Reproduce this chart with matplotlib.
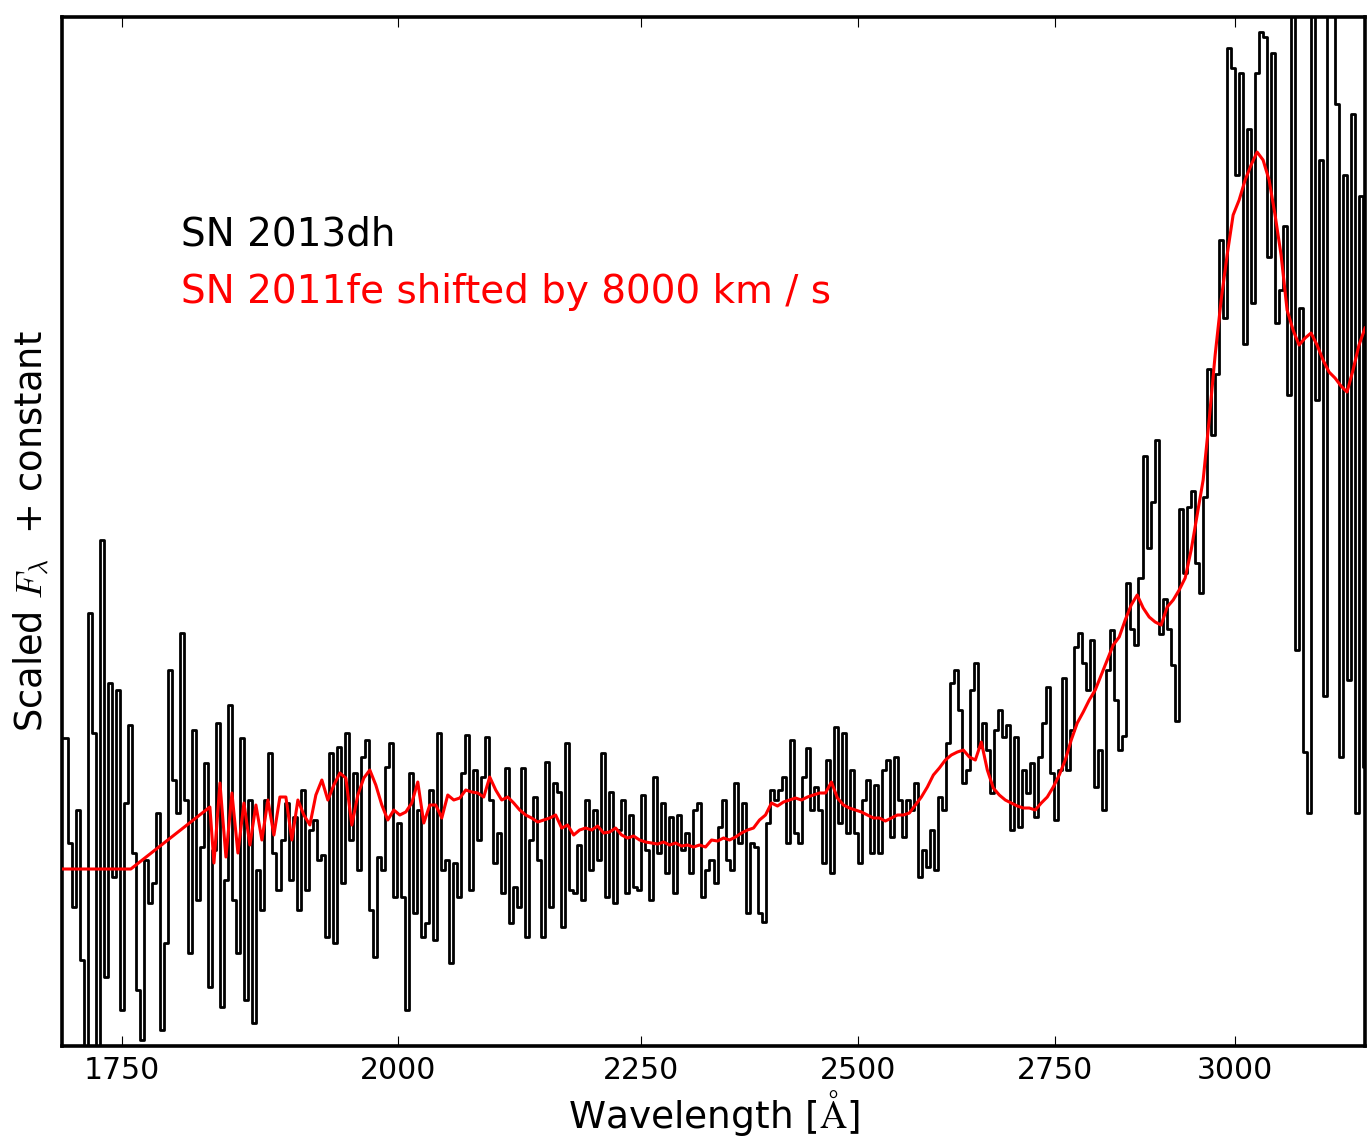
import numpy as np
import matplotlib
matplotlib.use("Agg")
import matplotlib.pyplot as plt
from matplotlib.ticker import NullLocator

plt.rcParams['font.family'] = ['DejaVu Sans']
plt.rcParams['mathtext.fontset'] = 'cm'

# ---------------- data ----------------
# SN 2013dh (black, binned spectrum), wavelength grid 1700-3195 A
sn13_wave_range = (1700.0, 3195.0)
sn13_flux = [
    30.8, 30.8, 20.3, 13.9, 23.6, 8.6, -1.4, 43.3, 31.3, -1.4,
    50.6, 6.9, 36.3, 16.9, 35.6, 3.6, 24.3, 32.1, 19.3, 5.6,
    0.6, 18.6, 14.3, 16.3, 23.3, 1.6, 10.3, 37.6, 26.6, 23.3,
    41.3, 24.6, 9.3, 31.6, 14.6, 19.9, 28.3, 5.9, 19.6, 32.3,
    3.9, 16.6, 34.1, 14.6, 9.3, 30.8, 4.6, 24.6, 2.3, 17.6,
    13.6, 24.6, 29.3, 19.3, 15.6, 20.6, 24.3, 16.6, 22.9, 13.6,
    25.6, 15.6, 21.6, 22.6, 18.6, 19.1, 10.9, 29.3, 10.3, 29.9,
    16.3, 31.3, 20.6, 27.3, 17.6, 28.9, 30.6, 13.6, 8.9, 18.9,
    17.6, 27.9, 30.3, 14.9, 22.3, 14.9, 3.6, 27.3, 13.3, 23.6,
    10.9, 12.3, 25.6, 10.6, 31.3, 17.6, 18.6, 8.3, 18.3, 14.9,
    27.3, 31.1, 15.6, 27.6, 20.6, 26.9, 30.9, 24.6, 18.3, 21.3,
    15.3, 27.8, 12.3, 15.9, 13.9, 27.8, 10.9, 20.6, 24.9, 18.6,
    10.9, 28.4, 13.9, 26.3, 25.4, 11.9, 30.3, 15.6, 15.3, 20.1,
    14.6, 24.6, 17.6, 23.6, 18.6, 29.3, 14.9, 25.4, 14.3, 21.6,
    24.6, 15.3, 23.1, 15.9, 15.6, 25.1, 19.6, 14.6, 26.9, 19.3,
    24.3, 17.3, 22.9, 15.3, 23.1, 19.6, 21.3, 17.3, 23.6, 24.3,
    14.9, 17.6, 18.6, 16.3, 21.9, 24.6, 18.6, 17.6, 26.3, 20.3,
    24.3, 13.3, 20.3, 19.9, 13.3, 12.4, 22.3, 25.6, 24.6, 25.6,
    26.9, 20.3, 30.6, 21.3, 20.3, 26.9, 29.8, 23.6, 25.9, 23.6,
    18.3, 28.6, 17.3, 31.9, 22.3, 31.3, 21.3, 27.6, 21.3, 18.3,
    24.6, 26.6, 19.3, 26.1, 19.3, 27.6, 28.6, 20.9, 28.9, 24.6,
    20.9, 24.6, 23.6, 26.3, 16.9, 19.6, 17.9, 21.6, 17.6, 24.9,
    23.6, 30.3, 36.3, 37.6, 33.6, 26.3, 27.6, 35.6, 38.3, 29.9,
    32.3, 29.6, 25.3, 31.6, 33.6, 30.9, 32.1, 21.6, 30.9, 21.9,
    27.6, 25.3, 28.3, 22.9, 28.9, 32.3, 35.9, 27.3, 22.6, 27.6,
    36.8, 27.6, 31.6, 39.9, 41.3, 38.3, 35.6, 40.6, 25.9, 29.6,
    23.6, 37.6, 41.6, 34.6, 29.6, 31.0, 46.3, 41.7, 40.1, 46.8,
    59.0, 49.8, 54.4, 60.6, 41.2, 44.7, 41.7, 38.1, 32.5, 53.7,
    47.3, 53.9, 55.5, 48.3, 45.3, 54.9, 67.7, 61.1, 67.2, 80.6,
    72.8, 99.8, 97.8, 87.1, 97.3, 70.2, 91.7, 74.3, 97.3, 101.4,
    100.9, 78.9, 99.3, 72.3, 75.6, 82.0, 65.1, 110.0, 39.6, 73.8,
    29.4, 23.3, 110.0, 64.6, 88.6, 35.0, 110.0, 110.0, 94.2, 28.9,
    87.1, 36.6, 93.2, 23.3, 85.0, 27.9,
]

# SN 2011fe shifted by 8000 km/s (red)
sn11_head_wave = [1700.0, 1757.6, 1826.2]
sn11_head_flux = [17.7, 17.7, 23.9]
sn11_wave_range = (1829.8, 3195.0)
sn11_flux = [
    18.3, 26.3, 18.9, 25.3, 19.3, 24.3, 20.1, 24.1, 20.6, 24.6,
    21.1, 24.9, 24.9, 20.6, 24.6, 23.1, 22.1, 25.1, 26.6, 24.6,
    26.1, 27.3, 26.8, 22.1, 25.1, 26.8, 27.6, 26.1, 24.1, 22.6,
    23.6, 23.1, 23.4, 24.3, 26.4, 22.3, 24.1, 24.1, 22.8, 25.1,
    24.6, 24.8, 25.6, 25.4, 25.3, 24.9, 26.9, 25.6, 24.6, 24.9,
    24.3, 23.6, 23.1, 22.8, 22.4, 22.6, 22.8, 23.1, 21.8, 22.1,
    21.1, 21.6, 21.8, 21.6, 22.0, 21.3, 21.4, 21.8, 21.1, 20.8,
    21.0, 20.6, 20.4, 20.3, 20.2, 20.4, 20.1, 20.3, 20.0, 20.1,
    19.9, 20.1, 19.9, 20.6, 20.5, 20.8, 20.6, 20.9, 21.3, 21.6,
    21.8, 22.6, 23.1, 24.3, 24.0, 24.4, 24.6, 24.8, 24.6, 24.9,
    25.1, 25.3, 25.3, 26.4, 24.8, 24.1, 23.8, 23.6, 23.4, 23.1,
    22.8, 22.8, 22.5, 22.8, 23.1, 23.1, 23.3, 24.1, 24.9, 25.9,
    27.1, 27.8, 28.6, 29.1, 29.4, 29.6, 28.9, 28.6, 30.4, 27.6,
    25.8, 25.1, 24.6, 24.3, 24.0, 23.8, 23.8, 23.6, 24.3, 24.9,
    25.9, 27.1, 28.6, 30.6, 32.3, 33.4, 34.6, 35.6, 37.1, 38.6,
    40.1, 40.9, 42.6, 44.1, 45.1, 43.8, 42.9, 42.4, 42.1, 43.9,
    44.6, 45.6, 46.8, 49.6, 53.1, 56.6, 62.6, 69.1, 74.6, 79.1,
    83.1, 84.6, 86.6, 88.1, 89.4, 88.6, 86.6, 83.1, 79.1, 73.6,
    71.6, 70.1, 70.8, 71.3, 70.1, 68.6, 67.4, 66.8, 66.0, 65.4,
    67.6, 70.1, 71.8,
]

xticks = [1750, 2000, 2250, 2500, 2750, 3000]
xtick_labels = ['1750', '2000', '2250', '2500', '2750', '3000']
label_black = 'SN 2013dh'
label_red = 'SN 2011fe shifted by 8000 km / s'

sn13_wave = np.geomspace(sn13_wave_range[0], sn13_wave_range[1], len(sn13_flux))
sn11_wave = np.concatenate([sn11_head_wave,
                            np.geomspace(sn11_wave_range[0], sn11_wave_range[1], len(sn11_flux))])
sn11_all = np.concatenate([sn11_head_flux, sn11_flux])

# ---------------- plot ----------------
fig = plt.figure(figsize=(13.67, 11.48), dpi=100)
ax = fig.add_axes([0.04535, 0.08885, 0.9532, 0.8963])

ax.step(sn13_wave, sn13_flux, where='mid', color='black', lw=2.0, zorder=2)
ax.plot(sn11_wave, sn11_all, color='red', lw=2.2, zorder=3)

ax.set_xscale('log')
ax.set_xlim(1700, 3195)
ax.set_ylim(0, 102.9)
ax.set_xticks(xticks, labels=xtick_labels)
ax.xaxis.set_minor_locator(NullLocator())
ax.set_yticks([])
ax.tick_params(axis='x', which='major', direction='in', top=True, length=7,
               width=0.8, labelsize=21.5, pad=7)

for sp in ax.spines.values():
    sp.set_linewidth(2.6)

ax.set_xlabel(r'Wavelength [$\mathrm{\AA}$]', fontsize=27, labelpad=2)
ax.set_ylabel(r'Scaled $F_\lambda$  + constant', fontsize=26.5, labelpad=8)

ax.text(0.0913, 0.7775, label_black, transform=ax.transAxes, fontsize=28,
        color='black', va='baseline', ha='left')
ax.text(0.0913, 0.722, label_red, transform=ax.transAxes, fontsize=28,
        color='red', va='baseline', ha='left')

fig.savefig('out.png', dpi=100)
